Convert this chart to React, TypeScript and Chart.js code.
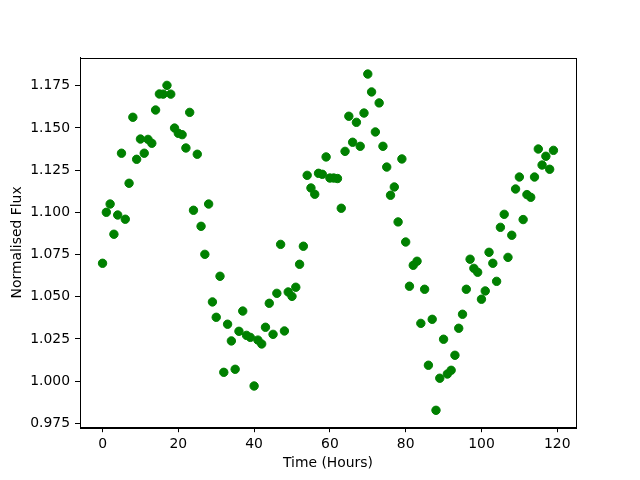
import React, { useEffect, useRef } from "react";
import { Chart, registerables } from "chart.js";

Chart.register(...registerables);

const hours: number[] = [
  0, 1, 2, 3, 4, 5, 6, 7, 8, 9,
  10, 11, 12, 13, 14, 15, 16, 17, 18, 19,
  20, 21, 22, 23, 24, 25, 26, 27, 28, 29,
  30, 31, 32, 33, 34, 35, 36, 37, 38, 39,
  40, 41, 42, 43, 44, 45, 46, 47, 48, 49,
  50, 51, 52, 53, 54, 55, 56, 57, 58, 59,
  60, 61, 62, 63, 64, 65, 66, 67, 68, 69,
  70, 71, 72, 73, 74, 75, 76, 77, 78, 79,
  80, 81, 82, 83, 84, 85, 86, 87, 88, 89,
  90, 91, 92, 93, 94, 95, 96, 97, 98, 99,
  100, 101, 102, 103, 104, 105, 106, 107, 108, 109,
  110, 111, 112, 113, 114, 115, 116, 117, 118, 119,
];

const flux: number[] = [
  1.0698, 1.1, 1.1049, 1.087, 1.0984, 1.135, 1.0959, 1.1172, 1.1563, 1.1314,
  1.1434, 1.135, 1.1432, 1.1409, 1.1606, 1.1701, 1.17, 1.1752, 1.17, 1.1499,
  1.1468, 1.146, 1.1381, 1.1592, 1.1012, 1.1344, 1.0917, 1.0751, 1.1049, 1.0469,
  1.0378, 1.0621, 1.0052, 1.0337, 1.0238, 1.007, 1.0295, 1.0415, 1.0271, 1.0259,
  0.9971, 1.0243, 1.022, 1.0319, 1.0461, 1.0277, 1.052, 1.081, 1.0297, 1.0528,
  1.0502, 1.0556, 1.0692, 1.0799, 1.1219, 1.1144, 1.1107, 1.1231, 1.1225, 1.1328,
  1.1203, 1.1203, 1.1200, 1.1024, 1.1361, 1.1569, 1.1415, 1.1533, 1.1391, 1.1588,
  1.1819, 1.1713, 1.1476, 1.1648, 1.1391, 1.1268, 1.1101, 1.115, 1.0943, 1.1316,
  1.0824, 1.0562, 1.0686, 1.071, 1.0342, 1.0544, 1.0094, 1.0366, 0.9827, 1.0017,
  1.0248, 1.0042, 1.0064, 1.0153, 1.0313, 1.0396, 1.0544, 1.0722, 1.0668, 1.0645,
  1.0485, 1.0534, 1.0763, 1.0698, 1.0591, 1.0911, 1.0988, 1.0733, 1.0864, 1.1138,
  1.1209, 1.0957, 1.1105, 1.1089, 1.1209, 1.1375, 1.128, 1.1332, 1.1255, 1.1367,
];

const xTicks: number[] = [0, 20, 40, 60, 80, 100, 120];
const yTicks: number[] = [0.975, 1.0, 1.025, 1.05, 1.075, 1.1, 1.125, 1.15, 1.175];

const xLabel = "Time (Hours)";
const yLabel = "Normalised Flux";

const FONT = "'DejaVu Sans', sans-serif";

const framePlugin = {
  id: "frame",
  afterDraw(chart: any) {
    const { ctx, chartArea } = chart;
    ctx.save();
    ctx.strokeStyle = "#000";
    ctx.lineWidth = 1;
    ctx.strokeRect(
      Math.round(chartArea.left) + 0.5,
      Math.round(chartArea.top) + 0.5,
      Math.round(chartArea.right - chartArea.left),
      Math.round(chartArea.bottom - chartArea.top)
    );
    ctx.restore();
  },
};

export default function App() {
  const ref = useRef<HTMLCanvasElement | null>(null);

  useEffect(() => {
    if (!ref.current) return;
    const points = hours.map((h, i) => ({ x: h, y: flux[i] }));
    const chart = new Chart(ref.current, {
      type: "scatter",
      data: {
        datasets: [
          {
            data: points,
            backgroundColor: "#008000",
            borderColor: "#008000",
            borderWidth: 1,
            pointRadius: 4.2,
            pointHoverRadius: 4.2,
          },
        ],
      },
      options: {
        responsive: false,
        animation: false,
        events: [],
        layout: { padding: { left: 0, top: 57.6, right: 64, bottom: 0 } },
        plugins: {
          legend: { display: false },
          tooltip: { enabled: false },
        },
        scales: {
          x: {
            type: "linear",
            min: -5.95,
            max: 124.95,
            afterBuildTicks: (scale: any) => {
              scale.ticks = xTicks.map((v) => ({ value: v }));
            },
            afterFit: (scale: any) => {
              scale.height = 52.8;
            },
            grid: {
              display: true,
              drawOnChartArea: false,
              drawTicks: true,
              tickLength: 5,
              color: "#000",
            },
            border: { display: true, color: "#000" },
            ticks: {
              color: "#000",
              padding: 4,
              font: { family: FONT, size: 13.9 },
              maxRotation: 0,
              callback: (v: any) => String(v),
            },
            title: {
              display: true,
              text: xLabel,
              color: "#000",
              font: { family: FONT, size: 13.9 },
              padding: { top: 0, bottom: 8.7 },
            },
          },
          y: {
            type: "linear",
            min: 0.97269,
            max: 1.19165,
            afterBuildTicks: (scale: any) => {
              scale.ticks = yTicks.map((v) => ({ value: v }));
            },
            afterFit: (scale: any) => {
              scale.width = 80;
            },
            grid: {
              display: true,
              drawOnChartArea: false,
              drawTicks: true,
              tickLength: 5,
              color: "#000",
            },
            border: { display: true, color: "#000" },
            ticks: {
              color: "#000",
              padding: 5,
              font: { family: FONT, size: 13.9 },
              callback: (v: any) => Number(v).toFixed(3),
            },
            title: {
              display: true,
              text: yLabel,
              color: "#000",
              font: { family: FONT, size: 13.9 },
              padding: { top: 9, bottom: 0 },
            },
          },
        },
      },
      plugins: [framePlugin],
    });
    return () => chart.destroy();
  }, []);

  return (
    <div
      style={{
        position: "fixed",
        left: 0,
        top: 0,
        width: 640,
        height: 480,
        background: "#fff",
      }}
    >
      <canvas ref={ref} width={640} height={480} style={{ width: 640, height: 480 }} />
    </div>
  );
}
